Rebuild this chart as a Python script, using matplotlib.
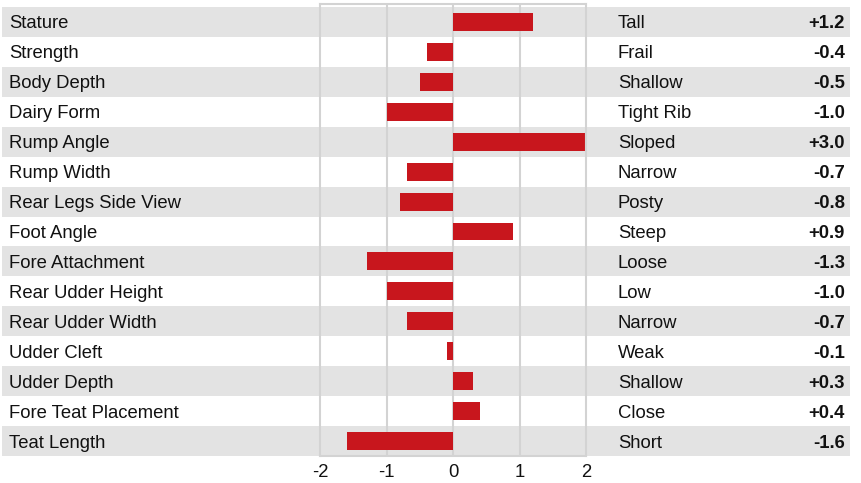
import numpy as np
import matplotlib.pyplot as plt

plt.rcParams['font.family'] = ['Liberation Sans', 'DejaVu Sans']

traits = ["Stature", "Strength", "Body Depth", "Dairy Form", "Rump Angle",
          "Rump Width", "Rear Legs Side View", "Foot Angle", "Fore Attachment",
          "Rear Udder Height", "Rear Udder Width", "Udder Cleft", "Udder Depth",
          "Fore Teat Placement", "Teat Length"]
descriptors = ["Tall", "Frail", "Shallow", "Tight Rib", "Sloped", "Narrow", "Posty",
               "Steep", "Loose", "Low", "Narrow", "Weak", "Shallow", "Close", "Short"]
values = [1.2, -0.4, -0.5, -1.0, 3.0, -0.7, -0.8, 0.9, -1.3, -1.0, -0.7, -0.1,
          0.3, 0.4, -1.6]
ticks = [-2, -1, 0, 1, 2]

W, H = 862, 483
fs = 13.3
fig = plt.figure(figsize=(W / 100, H / 100), dpi=100)

ylim = (14.5, -0.6)
bottom = (H - 456) / H
height = (456 - 4) / H

# background: bands and text
bg = fig.add_axes([0, bottom, 1, height])
bg.set_xlim(0, W)
bg.set_ylim(*ylim)
bg.axis('off')
rows = np.arange(len(traits))
for i in rows:
    if i % 2 == 0:
        bg.axhspan(i - 0.5, i + 0.5, xmin=2 / W, xmax=850 / W, color='#e3e3e3', lw=0, zorder=0)
    bg.text(9, i, traits[i], ha='left', va='center_baseline', fontsize=fs, color='#111111')
    bg.text(618, i, descriptors[i], ha='left', va='center_baseline', fontsize=fs, color='#111111')
    bg.text(845, i, f"{values[i]:+.1f}", ha='right', va='center_baseline', fontsize=fs,
            fontweight='bold', color='#111111')

# bar axes
ax = fig.add_axes([320.5 / W, bottom, (586 - 320.5) / W, height])
ax.set_facecolor('none')
ax.set_xlim(-2, 2)
ax.set_ylim(*ylim)
for t in ticks[1:-1]:
    ax.axvline(t, color='#d3d3d3', lw=1.5, zorder=1)
ax.barh(rows, values, height=0.6, color='#c8161d', zorder=2)
ax.set_xticks(ticks)
ax.set_xticklabels([str(t) for t in ticks], fontsize=fs, color='#111111')
ax.tick_params(axis='x', length=0, pad=6)
ax.set_yticks([])
for s in ax.spines.values():
    s.set_color('#d3d3d3')
    s.set_linewidth(1.5)

fig.savefig('out.png', dpi=100)
